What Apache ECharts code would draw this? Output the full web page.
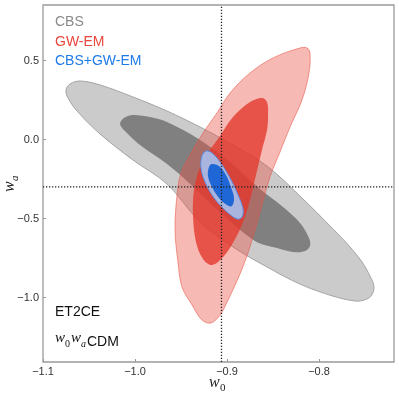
<!DOCTYPE html>
<html>
<head>
<meta charset="utf-8">
<script src="https://cdn.jsdelivr.net/npm/echarts@6/dist/echarts.min.js"></script>
<style>
  html, body { margin: 0; padding: 0; background: #fff; }
  #main { width: 399px; height: 397px; }
</style>
</head>
<body>
<div id="main"></div>
<script>
// contour outlines, as [w0, wa]
const cbsOuter = [
  [-1.075, 0.313], [-1.0707, 0.351], [-1.0598, 0.370], [-1.038, 0.345], [-1.0022, 0.269],
  [-0.9652, 0.180], [-0.9293, 0.079], [-0.8935, -0.035], [-0.8565, -0.168], [-0.8207, -0.358],
  [-0.7848, -0.566], [-0.7663, -0.680], [-0.7533, -0.775], [-0.7446, -0.864], [-0.7402, -0.934],
  [-0.7435, -0.991], [-0.7511, -1.016], [-0.7609, -1.022], [-0.7848, -0.991], [-0.8207, -0.915],
  [-0.8565, -0.807], [-0.8935, -0.680], [-0.9293, -0.522], [-0.9652, -0.282], [-1.0022, -0.130],
  [-1.038, 0.035], [-1.063, 0.180], [-1.0728, 0.263]
];
const cbsInner = [
  [-1.0163, 0.098], [-1.012, 0.136], [-1.0022, 0.155], [-0.9837, 0.142], [-0.9652, 0.111],
  [-0.9326, 0.009], [-0.8967, -0.142], [-0.8641, -0.313], [-0.8391, -0.427], [-0.8207, -0.528],
  [-0.8109, -0.623], [-0.8098, -0.674], [-0.8152, -0.706], [-0.8283, -0.712], [-0.8457, -0.687],
  [-0.8696, -0.642], [-0.9076, -0.459], [-0.9435, -0.263], [-0.9652, -0.155], [-0.9946, -0.035],
  [-1.0098, 0.047]
];
const gwOuter = [
  [-0.8130, 0.579], [-0.8098, 0.547], [-0.8109, 0.421], [-0.8185, 0.250], [-0.8315, 0.079],
  [-0.8424, -0.079], [-0.8533, -0.237], [-0.8620, -0.415], [-0.8696, -0.573], [-0.8772, -0.718],
  [-0.8859, -0.851], [-0.8978, -1.003], [-0.9076, -1.111], [-0.9174, -1.161], [-0.9272, -1.142],
  [-0.9380, -1.047], [-0.9489, -0.934], [-0.9533, -0.775], [-0.9565, -0.573], [-0.9543, -0.351],
  [-0.9500, -0.212], [-0.9402, -0.098], [-0.9261, 0.041], [-0.9109, 0.168], [-0.8967, 0.294],
  [-0.8750, 0.421], [-0.8500, 0.516], [-0.8207, 0.579]
];
const gwInner = [
  [-0.8620, 0.263], [-0.8565, 0.237], [-0.8554, 0.155], [-0.8565, 0.060], [-0.8620, -0.066],
  [-0.8685, -0.225], [-0.8750, -0.383], [-0.8826, -0.522], [-0.8924, -0.642], [-0.9033, -0.737],
  [-0.9163, -0.794], [-0.9261, -0.756], [-0.9337, -0.649], [-0.9370, -0.478], [-0.9359, -0.320],
  [-0.9304, -0.193], [-0.9207, -0.085], [-0.9076, 0.022], [-0.8935, 0.142], [-0.8750, 0.237]
];
const jointOuter = [
  [-0.9228, -0.073], [-0.9163, -0.085], [-0.9076, -0.142], [-0.8967, -0.244], [-0.8880, -0.351],
  [-0.8826, -0.440], [-0.8837, -0.491], [-0.8891, -0.503], [-0.9011, -0.453], [-0.9141, -0.370],
  [-0.9239, -0.269], [-0.9283, -0.180], [-0.9272, -0.104]
];
const jointInner = [
  [-0.9163, -0.155], [-0.9087, -0.168], [-0.9011, -0.225], [-0.8957, -0.301], [-0.8924, -0.370],
  [-0.8946, -0.421], [-0.9000, -0.415], [-0.9087, -0.370], [-0.9163, -0.301], [-0.9207, -0.231],
  [-0.9196, -0.174]
];

const w0Fid = -0.906;
const waFid = -0.3;
const xRange = [-1.1, -0.7185];
const yRange = [-1.408, 0.851];
const xTicks = [-1.1, -1.0, -0.9, -0.8];
const yTicks = [-1.0, -0.5, 0.0, 0.5];

const chart = echarts.init(document.getElementById('main'));

const fmt = (v) => (v < 0 ? '\u2212' : '') + Math.abs(v).toFixed(1);

function contour(name, pts, fill, stroke) {
  return {
    type: 'custom',
    name: name,
    data: pts,
    encode: { x: 0, y: 1 },
    clip: true,
    silent: true,
    renderItem: (params, api) => {
      if (params.dataIndex !== 0) return null;
      return {
        type: 'polygon',
        shape: { points: pts.map((p) => api.coord(p)), smooth: 0.35 },
        style: { fill: fill, stroke: stroke || null, lineWidth: stroke ? 1 : 0 }
      };
    }
  };
}

const serif = 'italic 16px "Liberation Serif"';
const serifSub = '11px "Liberation Serif"';
const dotted = { color: '#222', width: 1.3, type: [1.3, 1.7] };

chart.setOption({
  animation: false,
  grid: { left: 43, right: 5, top: 5, bottom: 35, show: true, borderColor: '#9a9a9a', borderWidth: 1.3 },
  xAxis: {
    type: 'value', min: xRange[0], max: xRange[1],
    axisLine: { show: false, onZero: false },
    splitLine: { show: false },
    axisTick: { inside: true, length: 3, lineStyle: { color: '#9a9a9a' }, customValues: xTicks },
    axisLabel: { customValues: xTicks, formatter: fmt, margin: 4, color: '#333', fontSize: 11, fontFamily: 'Liberation Sans' }
  },
  yAxis: {
    type: 'value', min: yRange[0], max: yRange[1],
    axisLine: { show: false, onZero: false },
    splitLine: { show: false },
    axisTick: { inside: true, length: 3, lineStyle: { color: '#9a9a9a' }, customValues: yTicks },
    axisLabel: { customValues: yTicks, formatter: fmt, margin: 4, color: '#333', fontSize: 11, fontFamily: 'Liberation Sans' }
  },
  series: [
    contour('CBS 2s', cbsOuter, '#cbcbcb', '#a3a3a3'),
    contour('CBS 1s', cbsInner, '#808080'),
    contour('GW-EM 2s', gwOuter, 'rgba(232,80,66,0.4)', 'rgba(232,80,66,0.55)'),
    contour('GW-EM 1s', gwInner, 'rgba(228,56,46,0.8)'),
    contour('CBS+GW-EM 2s', jointOuter, 'rgba(168,188,232,0.95)', '#5c8fe4'),
    contour('CBS+GW-EM 1s', jointInner, '#1f66d6'),
    {
      type: 'line', silent: true, symbol: 'none',
      data: [[w0Fid, yRange[0]], [w0Fid, yRange[1]]],
      lineStyle: dotted
    },
    {
      type: 'line', silent: true, symbol: 'none',
      data: [[xRange[0], waFid], [xRange[1], waFid]],
      lineStyle: dotted
    }
  ],
  graphic: [
    { type: 'text', left: 55, top: 15, style: { text: 'CBS', fill: '#8a8a8a', font: '14px "Liberation Sans"' } },
    { type: 'text', left: 55, top: 35, style: { text: 'GW-EM', fill: '#e8453c', font: '14px "Liberation Sans"' } },
    { type: 'text', left: 55, top: 54, style: { text: 'CBS+GW-EM', fill: '#1f7be6', font: '14px "Liberation Sans"' } },
    { type: 'text', left: 55, top: 305, style: { text: 'ET2CE', fill: '#111', font: '14px "Liberation Sans"' } },
    { type: 'text', x: 55, y: 346, style: { text: 'w', fill: '#111', font: 'italic 15px "Liberation Serif"', verticalAlign: 'bottom' } },
    { type: 'text', x: 65, y: 349, style: { text: '0', fill: '#111', font: '10px "Liberation Serif"', verticalAlign: 'bottom' } },
    { type: 'text', x: 71, y: 346, style: { text: 'w', fill: '#111', font: 'italic 15px "Liberation Serif"', verticalAlign: 'bottom' } },
    { type: 'text', x: 81, y: 349, style: { text: 'a', fill: '#111', font: 'italic 10px "Liberation Serif"', verticalAlign: 'bottom' } },
    { type: 'text', x: 87, y: 349, style: { text: 'CDM', fill: '#111', font: '14px "Liberation Sans"', verticalAlign: 'bottom' } },
    { type: 'text', x: 209, y: 391, style: { text: 'w', fill: '#222', font: serif, verticalAlign: 'bottom' } },
    { type: 'text', x: 220, y: 394, style: { text: '0', fill: '#222', font: serifSub, verticalAlign: 'bottom' } },
    {
      type: 'group', x: 18, y: 192, rotation: Math.PI / 2,
      children: [
        { type: 'text', x: 0, y: 0, style: { text: 'w', fill: '#222', font: serif, verticalAlign: 'bottom' } },
        { type: 'text', x: 11, y: 3, style: { text: 'a', fill: '#222', font: 'italic 11px "Liberation Serif"', verticalAlign: 'bottom' } }
      ]
    }
  ]
});
</script>
</body>
</html>
